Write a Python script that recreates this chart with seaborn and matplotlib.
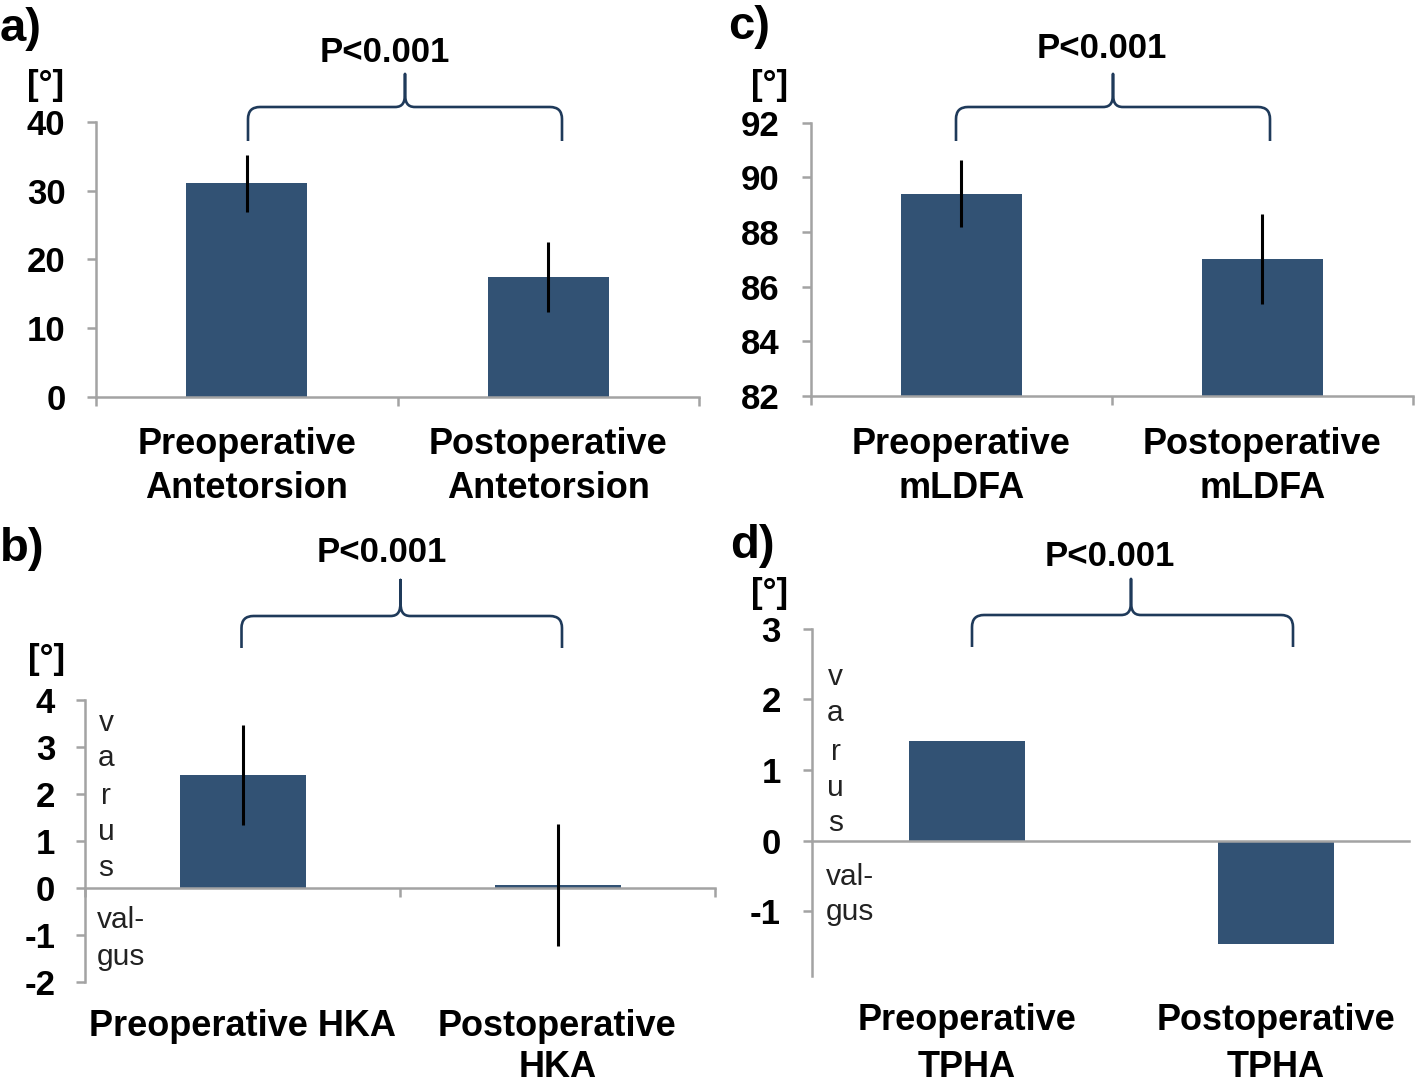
import numpy as np
import pandas as pd
import matplotlib
matplotlib.use("Agg")
import matplotlib.pyplot as plt
import seaborn as sns
from matplotlib.path import Path
from matplotlib.patches import PathPatch
from matplotlib.transforms import blended_transform_factory

# ---------------- data ----------------
ante_categories = ["Preoperative\nAntetorsion", "Postoperative\nAntetorsion"]
ante_means = [31.1, 17.4]
ante_sd = [4.15, 5.1]
ante_ticks = [0, 10, 20, 30, 40]

hka_categories = ["Preoperative HKA", "Postoperative\nHKA"]
hka_means = [2.4, 0.07]
hka_sd = [1.06, 1.3]
hka_ticks = [-2, -1, 0, 1, 2, 3, 4]

mldfa_categories = ["Preoperative\nmLDFA", "Postoperative\nmLDFA"]
mldfa_means = [89.4, 87.0]
mldfa_sd = [1.23, 1.64]
mldfa_ticks = [82, 84, 86, 88, 90, 92]

tpha_categories = ["Preoperative\nTPHA", "Postoperative\nTPHA"]
tpha_means = [1.41, -1.46]
tpha_ticks = [-1, 0, 1, 2, 3]

p_label = "P<0.001"
unit_label = "[°]"
panel_labels = ["a)", "b)", "c)", "d)"]
varus_letters = ["v", "a", "r", "u", "s"]
valgus_lines = ["val-", "gus"]

# ---------------- style ----------------
sns.set_style("white")
plt.rcParams["font.family"] = ["Liberation Sans", "DejaVu Sans"]
plt.rcParams["text.color"] = "black"
plt.rcParams["xtick.labelcolor"] = "black"
plt.rcParams["ytick.labelcolor"] = "black"
BAR = "#325274"
GREY = "#a3a3a3"
BRACE = "#1f3a5a"
FS = 25
CFS = 26

W, H = 1416, 1087
fig = plt.figure(figsize=(W / 100, H / 100), dpi=100)


def rect(l, r, t, b):
    return [l / W, 1 - b / H, (r - l) / W, (b - t) / H]


def fp(x, y):
    return (x / W, 1 - y / H)


def panel(r, cats, means, sd, ticks, ylim, xlim=(-0.5, 1.5), width=0.4,
          zero_axis=False, ypad=16, cat_top=425, minor=True, lsp=1.33):
    ax = fig.add_axes(r)
    df = pd.DataFrame({"cat": cats, "val": means})
    sns.barplot(data=df, x="cat", y="val", color=BAR, saturation=1,
                width=width, errorbar=None, ax=ax, edgecolor="none")
    if sd is not None:
        ax.errorbar(x=np.arange(len(means)), y=means, yerr=sd, fmt="none",
                    ecolor="black", elinewidth=2.2, capsize=0, zorder=5)
    ax.set_ylim(*ylim)
    ax.set_xlim(*xlim)
    ax.set_xlabel("")
    ax.set_ylabel("")
    ax.set_yticks(ticks)
    ax.set_yticklabels([str(t) for t in ticks], fontsize=FS, fontweight="bold",
                       color="black")
    ax.set_xticks(np.arange(len(cats)))
    ax.set_xticklabels([])
    ax.tick_params(axis="x", which="major", length=0)
    if minor:
        ax.set_xticks(np.arange(len(cats) + 1) - 0.5, minor=True)
        ax.tick_params(axis="x", which="minor", length=6.5, width=1.8,
                       color=GREY, direction="out", bottom=True)
    ax.tick_params(axis="y", length=6.5, width=1.8, color=GREY,
                   direction="out", pad=ypad, left=True, labelcolor="black")
    for s in ["top", "right"]:
        ax.spines[s].set_visible(False)
    for s in ["left", "bottom"]:
        ax.spines[s].set_color(GREY)
        ax.spines[s].set_linewidth(1.8)
    if zero_axis:
        ax.spines["bottom"].set_position(("data", 0))
    tr = blended_transform_factory(ax.transData, fig.transFigure)
    for i, c in enumerate(cats):
        ax.text(i, 1 - cat_top / H, c, transform=tr, ha="center", va="top",
                fontsize=CFS, fontweight="bold", linespacing=lsp,
                color="black")
    ax.patch.set_alpha(0)
    return ax


def brace(x0, x1, xm, yb, yh, ya, r=12):
    pts = [(x0, yb), (x0, yh + r), (x0, yh), (x0 + r, yh),
           (xm - 10, yh),
           (xm - 2, yh), (xm, yh - 5), (xm, yh - 14),
           (xm, ya),
           (xm, yh - 14),
           (xm, yh - 5), (xm + 2, yh), (xm + 10, yh),
           (x1 - r, yh),
           (x1, yh), (x1, yh + r),
           (x1, yb)]
    codes = [Path.MOVETO, Path.LINETO, Path.CURVE3, Path.CURVE3,
             Path.LINETO,
             Path.CURVE4, Path.CURVE4, Path.CURVE4,
             Path.LINETO,
             Path.LINETO,
             Path.CURVE4, Path.CURVE4, Path.CURVE4,
             Path.LINETO,
             Path.CURVE3, Path.CURVE3,
             Path.LINETO]
    verts = [fp(x, y) for x, y in pts]
    patch = PathPatch(Path(verts, codes), facecolor="none", edgecolor=BRACE,
                      lw=1.9, transform=fig.transFigure, capstyle="butt",
                      joinstyle="round")
    fig.add_artist(patch)


# a) Antetorsion
ax_a = panel(rect(96, 699, 122.3, 396.7), ante_categories, ante_means,
             ante_sd, ante_ticks, (0, 40), ypad=15.5, cat_top=427)
# c) mLDFA
ax_c = panel(rect(811, 1413, 122.5, 396), mldfa_categories, mldfa_means,
             mldfa_sd, mldfa_ticks, (82, 92), ypad=16, cat_top=427)
# b) HKA
ax_b = panel(rect(85, 715, 700, 982), hka_categories, hka_means, hka_sd,
             hka_ticks, (-2, 4), zero_axis=True, ypad=15, cat_top=1009,
             lsp=1.22)
# d) TPHA
ax_d = panel(rect(812, 1409, 628.5, 975.7), tpha_categories, tpha_means,
             None, tpha_ticks, (-1.91, 3), xlim=(-0.5, 1.43), width=0.375,
             zero_axis=True, ypad=16, cat_top=1003, minor=False, lsp=1.45)

# panel letters
for lab, (x, y) in zip(panel_labels, [(0, 29), (0, 549), (728, 27), (730, 546)]):
    fig.text(*fp(x, y), lab, ha="left", va="center", fontsize=34,
             fontweight="bold")

# units
for (x, y) in [(46, 86), (47, 660), (770, 86), (770, 593)]:
    fig.text(*fp(x, y), unit_label, ha="center", va="center", fontsize=FS,
             fontweight="bold")

# P values
for (x, y) in [(385, 52), (381.5, 553), (1101.5, 48), (1109.5, 557)]:
    fig.text(*fp(x, y), p_label, ha="center", va="center", fontsize=FS,
             fontweight="bold")

# braces
brace(248, 562, 405, 141, 107, 74)
brace(956, 1270, 1113, 141, 107, 74)
brace(241.5, 562, 400.5, 648, 616, 580)
brace(972, 1293, 1131, 647, 615, 579)

# varus / valgus annotations
for letters_x, ys in [(106, [723, 758, 796, 832, 868]),
                      (835.5, [677, 713, 752, 788, 823])]:
    for ch, y in zip(varus_letters, ys):
        fig.text(*fp(letters_x, y), ch, ha="center", va="center",
                 fontsize=21.5, fontweight="normal", color="#222222")
for x0, ys in [(97, [920, 957]), (826, [877, 912])]:
    for line, y in zip(valgus_lines, ys):
        fig.text(*fp(x0, y), line, ha="left", va="center", fontsize=21.5,
                 fontweight="normal", color="#222222")

fig.savefig("out.png", dpi=100, facecolor="white")
